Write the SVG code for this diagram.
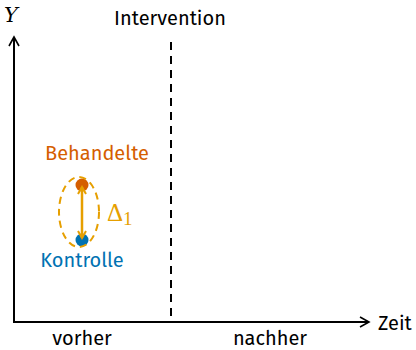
<svg xmlns="http://www.w3.org/2000/svg" width="416" height="350" viewBox="0 0 416 350">
  <style>
    text { font-family: "Fira Sans", "Open Sans", "Noto Sans", sans-serif; font-size: 20px; }
    .ax { stroke: #000; stroke-width: 2; fill: none; }
    .ylab { font-family: "DejaVu Serif", "Liberation Serif", serif; font-style: italic; font-size: 21px; }
    .delta { font-family: "Liberation Serif", "DejaVu Serif", serif; font-size: 25px; fill: #e69f00; }
    .sub { font-size: 19px; }
  </style>
  <defs>
    <marker id="ah" viewBox="0 0 12 12" refX="10" refY="6" markerWidth="12" markerHeight="12" markerUnits="userSpaceOnUse" orient="auto">
      <path d="M1,1 L10,6 L1,11" fill="none" stroke="#000" stroke-width="1.6"/>
    </marker>
    <marker id="oh" viewBox="0 0 10 10" refX="8" refY="5" markerWidth="10" markerHeight="10" markerUnits="userSpaceOnUse" orient="auto-start-reverse">
      <path d="M1,1 L8,5 L1,9" fill="none" stroke="#e69f00" stroke-width="2"/>
    </marker>
  </defs>

  <g id="connectors">
    <line class="ax" x1="14" y1="322" x2="14" y2="37" marker-end="url(#ah)"/>
    <line class="ax" x1="13" y1="322" x2="369" y2="322" marker-end="url(#ah)"/>
    <line x1="171" y1="42" x2="171" y2="322" stroke="#000" stroke-width="2" stroke-dasharray="8,6"/>
  </g>

  <g id="labels">
    <text x="4" y="22" class="ylab">Y</text>
    <text x="170" y="25" text-anchor="middle">Intervention</text>
    <text x="378" y="330">Zeit</text>
    <text x="82" y="345" text-anchor="middle">vorher</text>
    <text x="270" y="345" text-anchor="middle">nachher</text>
  </g>

  <g id="behandelte">
    <circle cx="82" cy="185" r="6.5" fill="#d55e00"/>
    <text x="97" y="160" text-anchor="middle" fill="#d55e00">Behandelte</text>
  </g>

  <g id="kontrolle">
    <circle cx="82" cy="240" r="6.5" fill="#0072b2"/>
    <text x="82" y="267" text-anchor="middle" fill="#0072b2">Kontrolle</text>
  </g>

  <g id="delta">
    <ellipse cx="79" cy="212" rx="20" ry="35" fill="none" stroke="#e69f00" stroke-width="2" stroke-dasharray="7,5"/>
    <line x1="82" y1="187" x2="82" y2="238" stroke="#e69f00" stroke-width="2.5" marker-start="url(#oh)" marker-end="url(#oh)"/>
    <text x="107" y="221" class="delta">Δ<tspan class="sub" dy="4">1</tspan></text>
  </g>
</svg>
